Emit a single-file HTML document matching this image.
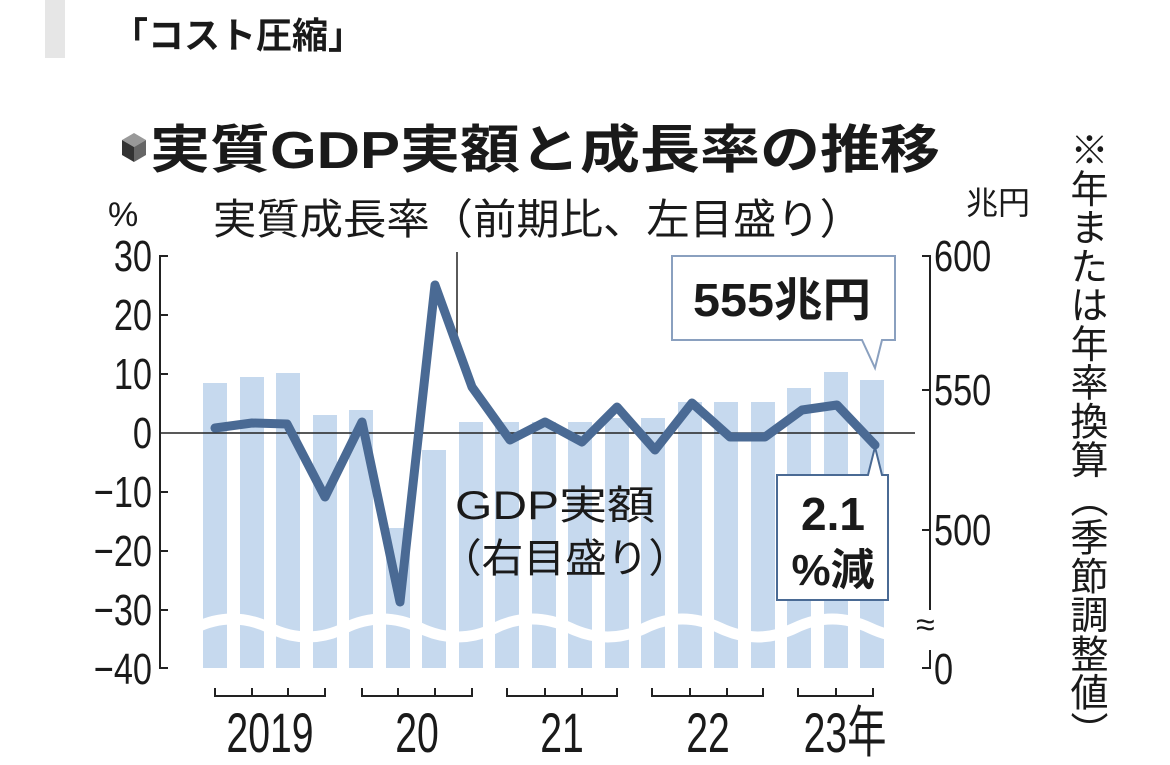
<!DOCTYPE html>
<html><head><meta charset="utf-8"><style>
html,body{margin:0;padding:0;background:#fff;}
svg{display:block;}
text{font-family:"Liberation Sans","Noto Sans CJK JP",sans-serif;fill:#1a1a1a;}
</style></head><body>
<svg width="1170" height="765" viewBox="0 0 1170 765" xmlns="http://www.w3.org/2000/svg">
<rect x="45" y="0" width="20" height="58" fill="#e6e6e6"/>
<text x="112" y="48" font-size="36" font-weight="bold">「コスト圧縮」</text>
<polygon points="122,140 134,133 146,140 134,147" fill="#999"/>
<polygon points="122,140 134,147 134,162 122,155" fill="#333"/>
<polygon points="146,140 134,147 134,162 146,155" fill="#666"/>
<text x="150" y="168" font-size="52" font-weight="bold" textLength="790" lengthAdjust="spacingAndGlyphs">実質GDP実額と成長率の推移</text>
<text x="108" y="226" font-size="34">%</text>
<text x="213" y="234" font-size="42" textLength="650" lengthAdjust="spacingAndGlyphs">実質成長率（前期比、左目盛り）</text>
<text x="966" y="214" font-size="32">兆円</text>
<g fill="#c6d9ee">
<rect x="203" y="383" width="24" height="285"/>
<rect x="240" y="377" width="24" height="291"/>
<rect x="276" y="373" width="24" height="295"/>
<rect x="313" y="415" width="24" height="253"/>
<rect x="349" y="410" width="24" height="258"/>
<rect x="386" y="528" width="24" height="140"/>
<rect x="422" y="450" width="24" height="218"/>
<rect x="459" y="422" width="24" height="246"/>
<rect x="495" y="422" width="24" height="246"/>
<rect x="532" y="422" width="24" height="246"/>
<rect x="568" y="422" width="24" height="246"/>
<rect x="605" y="418" width="24" height="250"/>
<rect x="641" y="418" width="24" height="250"/>
<rect x="678" y="402" width="24" height="266"/>
<rect x="714" y="402" width="24" height="266"/>
<rect x="751" y="402" width="24" height="266"/>
<rect x="787" y="388" width="24" height="280"/>
<rect x="824" y="372" width="24" height="296"/>
<rect x="860" y="380" width="24" height="288"/>
</g>
<path d="M195,628 Q232,610 270,628 T345,628 T420,628 T495,628 T570,628 T645,628 T720,628 T795,628 T870,628 T945,628" fill="none" stroke="#fff" stroke-width="11"/>
<g stroke="#222" stroke-width="2" fill="none">
<path d="M168,256 H160 V668 H168"/>
<path d="M160,315 H168 M160,374 H168 M160,492 H168 M160,551 H168 M160,610 H168"/>
<path d="M922,256 H930 V610 M930,650 V668 H922 M922,390 H930 M922,530 H930"/>
<line x1="160" y1="433" x2="915" y2="433" stroke-width="1.5"/>
<line x1="457" y1="252" x2="457" y2="338" stroke-width="1.5"/>
<path d="M215,688 V696 H325 V688 M252,688 V696 M288,688 V696 M362,688 V696 H472 V688 M398,688 V696 M435,688 V696 M507,688 V696 H617 V688 M545,688 V696 M582,688 V696 M652,688 V696 H763 V688 M690,688 V696 M727,688 V696 M798,688 V696 H873 V688 M836,688 V696"/>
</g>
<text x="916" y="636" font-size="34">≈</text>
<g font-size="44" text-anchor="end">
<text transform="translate(152,271) scale(0.78,1)">30</text>
<text transform="translate(152,330) scale(0.78,1)">20</text>
<text transform="translate(152,389) scale(0.78,1)">10</text>
<text transform="translate(152,448) scale(0.78,1)">0</text>
<text transform="translate(152,507) scale(0.78,1)">−10</text>
<text transform="translate(152,566) scale(0.78,1)">−20</text>
<text transform="translate(152,625) scale(0.78,1)">−30</text>
<text transform="translate(152,684) scale(0.78,1)">−40</text>
</g>
<g font-size="44">
<text transform="translate(934,271) scale(0.78,1)">600</text>
<text transform="translate(934,405) scale(0.78,1)">550</text>
<text transform="translate(934,545) scale(0.78,1)">500</text>
<text transform="translate(934,684) scale(0.78,1)">0</text>
</g>
<g font-size="56" text-anchor="middle">
<text transform="translate(270,752) scale(0.7,1)">2019</text>
<text transform="translate(417,752) scale(0.7,1)">20</text>
<text transform="translate(562,752) scale(0.7,1)">21</text>
<text transform="translate(708,752) scale(0.7,1)">22</text>
<text transform="translate(845,752) scale(0.7,1)">23年</text>
</g>
<polyline points="215,428 252,423 287,424 325,497 362,422 400,602 435,285 472,387 510,440 545,422 582,442 617,407 655,450 692,403 730,437 765,437 802,410 837,405 875,445" fill="none" stroke="#4a6a94" stroke-width="9" stroke-linejoin="round" stroke-linecap="round"/>
<text x="455" y="519" font-size="40" textLength="200" lengthAdjust="spacingAndGlyphs">GDP実額</text>
<text x="440" y="572" font-size="40" textLength="250" lengthAdjust="spacingAndGlyphs">（右目盛り）</text>
<path d="M672,256 H895 V340 H882 L875,368 L862,340 H672 Z" fill="#fff" stroke="#8aa0bf" stroke-width="2"/>
<text x="782" y="316" font-size="46" font-weight="bold" text-anchor="middle" textLength="178" lengthAdjust="spacingAndGlyphs">555兆円</text>
<path d="M777,475 H868 L875,447 L882,475 H888 V600 H777 Z" fill="#fff" stroke="#4a6a94" stroke-width="2"/>
<text x="833" y="530" font-size="46" font-weight="bold" text-anchor="middle">2.1</text>
<text x="833" y="585" font-size="44" font-weight="bold" text-anchor="middle">%減</text>
<text x="1085" y="130" font-size="38" style="writing-mode:vertical-rl" textLength="620" lengthAdjust="spacingAndGlyphs">※年または年率換算（季節調整値）</text>
</svg>
</body></html>
